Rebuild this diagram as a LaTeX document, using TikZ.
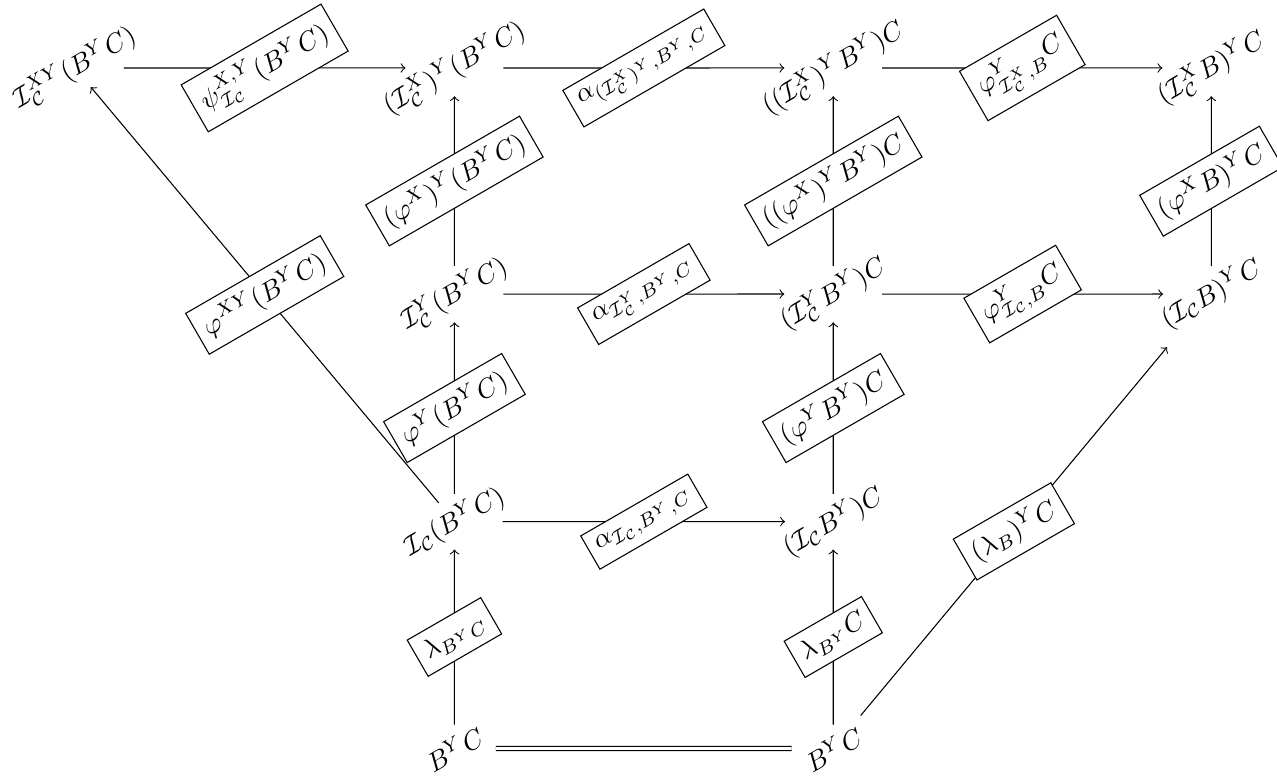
\documentclass[tikz,border=0pt]{standalone}
\usepackage{amsmath}
\usepackage{amssymb}
\newcommand{\ic}{\mathcal{I}_{\mathcal{C}}}
\tikzset{obj/.style={rotate=30},
	lab/.style={draw, fill=white, rotate=30}}

\begin{document}
\begin{tikzpicture}

	\useasboundingbox (-0.98,0.89) rectangle (15.74,-9.3);

	\node[obj] (a1) at (0,0) {$\ic^{XY}(B^Y C)$};
	\node[obj] (a2) at (4.97,0) {$(\ic^X)^Y(B^Y C)$};
	\node[obj] (a3) at (9.93,0) {$((\ic^X)^Y B^Y)C$};
	\node[obj] (a4) at (14.88,0) {$(\ic^X B)^Y C$};

	\node[obj] (b2) at (4.97,-2.96) {$\ic^Y(B^Y C)$};
	\node[obj] (b3) at (9.93,-2.96) {$(\ic^Y B^Y)C$};
	\node[obj] (b4) at (14.88,-2.96) {$(\ic B)^Y C$};

	\node[obj] (c2) at (4.97,-5.94) {$\ic(B^Y C)$};
	\node[obj] (c3) at (9.93,-5.94) {$(\ic B^Y)C$};

	\node[obj] (d2) at (4.97,-8.91) {$B^Y C$};
	\node[obj] (d3) at (9.93,-8.91) {$B^Y C$};

	\draw[->] (a1) -- node[lab] {$\psi^{X,Y}_{\ic}(B^Y C)$} (a2);
	\draw[->] (a2) -- node[lab] {$\alpha_{(\ic^X)^Y,B^Y,C}$} (a3);
	\draw[->] (a3) -- node[lab] {$\varphi^Y_{\ic^X,B}C$} (a4);

	\draw[->] (b2) -- node[lab] {$(\varphi^X)^Y(B^Y C)$} (a2);
	\draw[->] (b3) -- node[lab] {$((\varphi^X)^Y B^Y)C$} (a3);
	\draw[->] (b4) -- node[lab] {$(\varphi^X B)^Y C$} (a4);

	\draw[->] (b2) -- node[lab] {$\alpha_{\ic^Y,B^Y,C}$} (b3);
	\draw[->] (b3) -- node[lab] {$\varphi^Y_{\ic,B}C$} (b4);

	\draw[->] (c2) -- node[lab] {$\varphi^Y(B^Y C)$} (b2);
	\draw[->] (c3) -- node[lab] {$(\varphi^Y B^Y)C$} (b3);
	\draw[->] (c2) -- node[lab] {$\alpha_{\ic,B^Y,C}$} (c3);
	\draw[->] (c2) -- node[lab] {$\varphi^{XY}(B^Y C)$} (a1);

	\draw[->] (d2) -- node[lab] {$\lambda_{B^Y C}$} (c2);
	\draw[->] (d3) -- node[lab] {$\lambda_{B^Y}C$} (c3);
	\draw[->] (d3) -- node[lab] {$(\lambda_B)^Y C$} (b4);
	\draw[double, double distance=1.1pt] (d2) -- (d3);

\end{tikzpicture}
\end{document}
